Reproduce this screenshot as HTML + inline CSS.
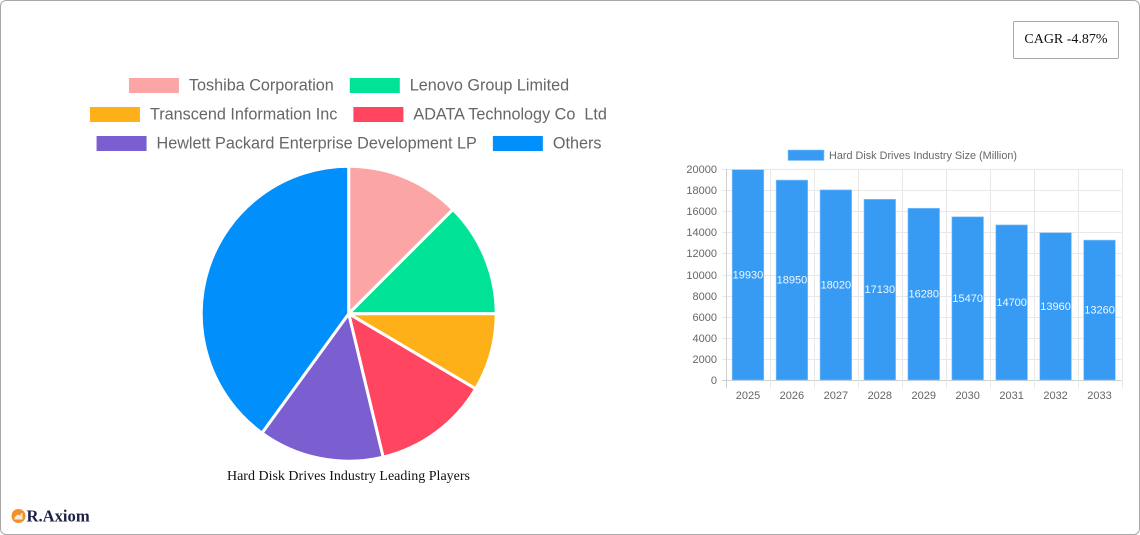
<!DOCTYPE html>
<html lang="en">
<head>
<meta charset="utf-8">
<title>Hard Disk Drives Industry</title>
<style>
html,body{margin:0;padding:0;background:#fff;width:1140px;height:535px;overflow:hidden}
#card{position:absolute;left:0;top:0;width:1138px;height:533px;border:1px solid #a9a9a9;border-radius:6px;background:#fff}
#cagr{position:absolute;left:1013px;top:21px;width:104px;height:36px;border:1px solid #a9a9a9;border-radius:2px;font:14px "Liberation Serif",serif;color:#111;text-align:center;line-height:36px;background:#fff}
#chart{position:absolute;left:0;top:0}
text{white-space:pre}
</style>
</head>
<body>
<div id="card"></div>
<div id="cagr">CAGR -4.87%</div>
<svg id="chart" width="1140" height="535" viewBox="0 0 1140 535">
  <g id="pie"></g>
  <g id="pie-legend"></g>
  <text x="348.5" y="480" text-anchor="middle" font-family="Liberation Serif, serif" font-size="14" fill="#111">Hard Disk Drives Industry Leading Players</text>
  <g id="bars"></g>
  <g>
    <circle cx="18.5" cy="516" r="7" fill="#f0922b"/>
    <path d="M14.5 519.5h8v-7l-3 3-2-1-3 3z" fill="#fff" opacity="0.8"/>
    <text x="26.5" y="521.5" font-family="Liberation Serif, serif" font-weight="bold" font-size="16.6" fill="#1c2145">R.Axiom</text>
  </g>
</svg>
<script>
var pieLabels = ["Toshiba Corporation", "Lenovo Group Limited", "Transcend Information Inc", "ADATA Technology Co  Ltd", "Hewlett Packard Enterprise Development LP", "Others"];
var pieValues = [12.5, 12.5, 8.5, 12.75, 13.75, 40];
var pieColors = ["#fba5a7", "#00e396", "#feb019", "#ff4560", "#7b5fd0", "#008ffb"];
var pieLegendRows = [[0, 1], [2, 3], [4, 5]];

var years = ["2025", "2026", "2027", "2028", "2029", "2030", "2031", "2032", "2033"];
var marketSize = [19930, 18950, 18020, 17130, 16280, 15470, 14700, 13960, 13260];
var yTicks = [0, 2000, 4000, 6000, 8000, 10000, 12000, 14000, 16000, 18000, 20000];
var seriesName = "Hard Disk Drives Industry Size (Million)";

var NS = "http://www.w3.org/2000/svg";
function mk(parent, tag, attrs, txt) {
  var el = document.createElementNS(NS, tag);
  for (var k in attrs) { el.setAttribute(k, attrs[k]); }
  if (txt !== undefined) { el.textContent = txt; }
  parent.appendChild(el);
  return el;
}

/* pie */
var pieGroup = document.getElementById("pie");
var cx = 348.7, cy = 313.7, radius = 147.5;
var pieTotal = pieValues.reduce(function (a, b) { return a + b; }, 0);
function pieAngle(v) { return v / pieTotal * Math.PI * 2 - Math.PI / 2; }
var cumulative = 0;
pieValues.forEach(function (v, i) {
  var a0 = pieAngle(cumulative);
  var a1 = pieAngle(cumulative + v);
  cumulative += v;
  var large = (a1 - a0) > Math.PI ? 1 : 0;
  var d = "M" + cx + " " + cy +
    "L" + (cx + radius * Math.cos(a0)) + " " + (cy + radius * Math.sin(a0)) +
    "A" + radius + " " + radius + " 0 " + large + " 1 " + (cx + radius * Math.cos(a1)) + " " + (cy + radius * Math.sin(a1)) + "Z";
  var slice = mk(pieGroup, "path", { d: d, fill: pieColors[i], stroke: "#fff", "stroke-width": 3, "stroke-linejoin": "round" });
  
  
});

/* pie legend */
var legendGroup = document.getElementById("pie-legend");
var legendFont = 16.2, boxW = 50, boxH = 15, boxGap = 10, itemGap = 16, rowStart = 85.5, rowStep = 29, legendCenter = 349;
var measureCanvas = document.createElement("canvas").getContext("2d");
measureCanvas.font = legendFont + 'px "Liberation Sans"';
pieLegendRows.forEach(function (row, r) {
  var widths = row.map(function (idx) { return boxW + boxGap + measureCanvas.measureText(pieLabels[idx]).width; });
  var totalW = widths.reduce(function (a, b) { return a + b; }, 0) + itemGap * (row.length - 1);
  var x = legendCenter - totalW / 2;
  var y = rowStart + r * rowStep;
  row.forEach(function (idx, j) {
    var box = mk(legendGroup, "rect", { x: x, y: y - boxH / 2, width: boxW, height: boxH, fill: pieColors[idx] });
    
    
    var label = mk(legendGroup, "text", { x: x + boxW + boxGap, y: y + 5.2, "font-family": "Liberation Sans, sans-serif", "font-size": legendFont, fill: "#666" }, pieLabels[idx]);
    
    
    x += widths[j] + itemGap;
  });
});

/* bars */
var barGroup = document.getElementById("bars");
var plotL = 726, plotR = 1121.5, plotT = 169, plotB = 380, yMax = 20000;
var band = (plotR - plotL) / years.length;
function yScale(v) { return plotB - (v / yMax) * (plotB - plotT); }
function xScale(i) { return plotL + band * i; }

yTicks.forEach(function (t) {
  var yy = Math.round(yScale(t)) + 0.5;
  var line = mk(barGroup, "line", { x1: plotL - 4, x2: plotR, y1: yy, y2: yy, stroke: t === 0 ? "#cfcfcf" : "#e8e8e8", "stroke-width": 1 });
  
  
  var lab = mk(barGroup, "text", { x: plotL - 9, y: yy + 3.5, "text-anchor": "end", "font-family": "Liberation Sans, sans-serif", "font-size": 11, fill: "#666" }, String(t));
  
  
});

for (var g = 0; g <= years.length; g++) {
  var gx = Math.round(xScale(g)) + 0.5;
  var vline = mk(barGroup, "line", { x1: gx, x2: gx, y1: plotT, y2: plotB + 8, stroke: g === 0 ? "#cfcfcf" : "#e8e8e8", "stroke-width": 1 });
  
  
}

marketSize.forEach(function (v, i) {
  var center = xScale(i) + band / 2;
  var bw = band * 0.72;
  var top = yScale(v);
  var bar = mk(barGroup, "rect", { x: center - bw / 2, y: top, width: bw, height: yScale(0) - top, fill: "#389bf3", stroke: "#8cc6f8", "stroke-width": 0.6 });
  
  
  var val = mk(barGroup, "text", { x: center, y: (top + yScale(0)) / 2 + 3.5, "text-anchor": "middle", "font-family": "Liberation Sans, sans-serif", "font-size": 11, fill: "#fff", opacity: 0.92 }, String(v));
  
  
  var xl = mk(barGroup, "text", { x: center, y: 399, "text-anchor": "middle", "font-family": "Liberation Sans, sans-serif", "font-size": 11, fill: "#666" }, years[i]);
  
  
});

var seriesBox = mk(barGroup, "rect", { x: 788, y: 150, width: 36, height: 10.5, fill: "#389bf3", stroke: "#8cc6f8", "stroke-width": 0.6 });


var seriesLabel = mk(barGroup, "text", { x: 829, y: 159, "font-family": "Liberation Sans, sans-serif", "font-size": 10.85, fill: "#666" }, seriesName);


</script>
</body>
</html>
